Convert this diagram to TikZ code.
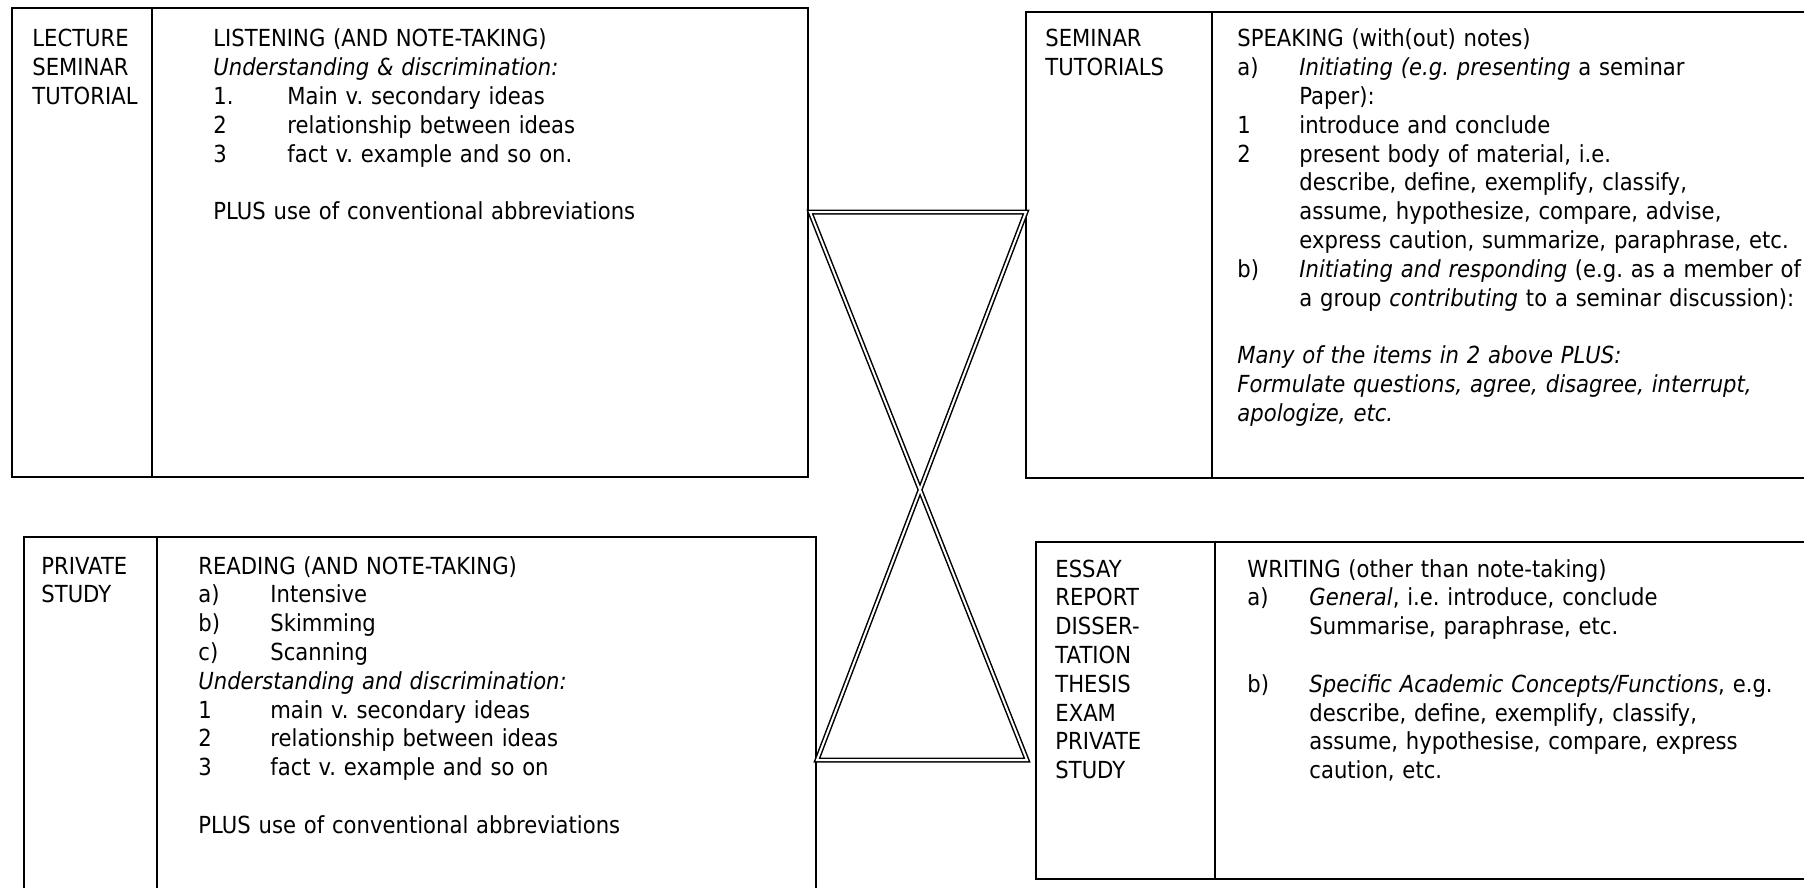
\documentclass[tikz,border=0pt]{standalone}
\usepackage{fontspec}
\setmainfont{DejaVu Sans}[FakeStretch=0.9]
\newcommand{\numlbl}[2]{\makebox[#1][l]{#2}}
\frenchspacing

\begin{document}
\begin{tikzpicture}[x=0.5pt,y=-0.5pt,font=\fontsize{11.75}{14.4}\selectfont,
  frame/.style={line width=1pt},
  rule/.style={line width=0.8pt},
  hglass/.style={line width=0.75pt,double=white,double distance=1pt},
  side/.style={anchor=base west,inner sep=0pt,align=left,text width=70pt},
  body/.style={anchor=base west,inner sep=0pt,align=left,text width=300pt}]
\useasboundingbox (0,0) rectangle (1804,888);
\clip (0,0) rectangle (1804,888);
% listening
\draw[frame] (12,8) rectangle (808,477);
\draw[rule] (152,8) -- (152,477);
\node[side] (tlplace) at (32,47) {LECTURE\\SEMINAR\\TUTORIAL};
\node[body] (tlskill) at (213,47) {LISTENING (AND NOTE-TAKING)\\
  \textit{Understanding \& discrimination:}\\
  \numlbl{37pt}{1.}Main v. secondary ideas\\
  \numlbl{37pt}{2}relationship between ideas\\
  \numlbl{37pt}{3}fact v. example and so on.\\[14.4pt]
  PLUS use of conventional abbreviations};
% speaking
\draw[frame] (1810,12) -- (1026,12) -- (1026,478) -- (1810,478);
\draw[rule] (1212,12) -- (1212,478);
\node[side] (trplace) at (1045,47) {SEMINAR\\TUTORIALS};
\node[body] (trskill) at (1237,47) {SPEAKING (with(out) notes)\\
  \numlbl{31pt}{a)}\textit{Initiating (e.g. presenting} a seminar\\
  \hspace*{31pt}Paper):\\
  \numlbl{31pt}{1}introduce and conclude\\
  \numlbl{31pt}{2}present body of material, i.e.\\
  \hspace*{31pt}describe, define, exemplify, classify,\\
  \hspace*{31pt}assume, hypothesize, compare, advise,\\
  \hspace*{31pt}express caution, summarize, paraphrase, etc.\\
  \numlbl{31pt}{b)}\textit{Initiating and responding} (e.g. as a member of\\
  \hspace*{31pt}a group \textit{contributing} to a seminar discussion):\\[14.4pt]
  \textit{Many of the items in 2 above PLUS:}\\
  \textit{Formulate questions, agree, disagree, interrupt,}\\
  \textit{apologize, etc.}};
% reading
\draw[frame] (24,900) -- (24,537) -- (816,537) -- (816,900);
\draw[rule] (157,537) -- (157,900);
\node[side] (blplace) at (41,574) {PRIVATE\\STUDY};
\node[body] (blskill) at (198,574) {READING (AND NOTE-TAKING)\\
  \numlbl{36pt}{a)}Intensive\\
  \numlbl{36pt}{b)}Skimming\\
  \numlbl{36pt}{c)}Scanning\\
  \textit{Understanding and discrimination:}\\
  \numlbl{36pt}{1}main v. secondary ideas\\
  \numlbl{36pt}{2}relationship between ideas\\
  \numlbl{36pt}{3}fact v. example and so on\\[14.4pt]
  PLUS use of conventional abbreviations};
% writing
\draw[frame] (1810,542) -- (1036,542) -- (1036,879) -- (1810,879);
\draw[rule] (1215,542) -- (1215,879);
\node[side] (brplace) at (1055,577) {ESSAY\\REPORT\\DISSER-\\TATION\\THESIS\\EXAM\\PRIVATE\\STUDY};
\node[body] (brskill) at (1247,577) {WRITING (other than note-taking)\\
  \numlbl{31pt}{a)}\textit{General}, i.e. introduce, conclude\\
  \hspace*{31pt}Summarise, paraphrase, etc.\\[14.4pt]
  \numlbl{31pt}{b)}\textit{Specific Academic Concepts/Functions}, e.g.\\
  \hspace*{31pt}describe, define, exemplify, classify,\\
  \hspace*{31pt}assume, hypothesise, compare, express\\
  \hspace*{31pt}caution, etc.};
% hourglass
\draw[hglass] (810,212) -- (1026,212) -- (817,760) -- (1027,760) -- cycle;
\end{tikzpicture}
\end{document}
